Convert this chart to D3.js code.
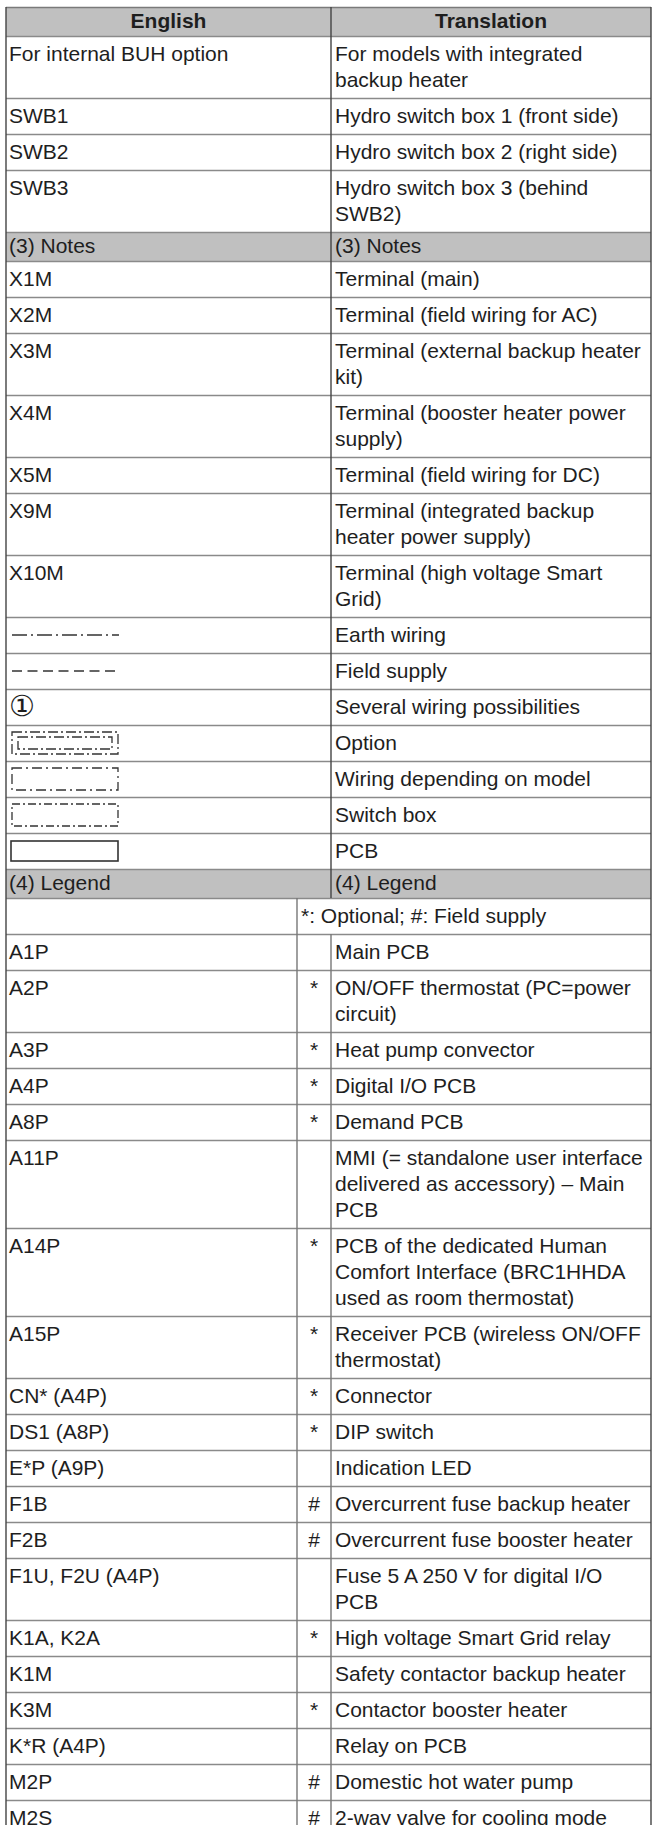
<!DOCTYPE html>
<html><head><meta charset="utf-8">
<script src="https://cdn.jsdelivr.net/npm/d3@7"></script>
<style>body{margin:0;background:#fff;overflow:hidden}</style>
</head><body><svg id="c" width="660" height="1825"></svg>
<script>
// ---- data ----
const english = ["English","For internal BUH option","SWB1","SWB2","SWB3","(3) Notes","X1M","X2M","X3M","X4M","X5M","X9M","X10M","","","\u2460","","","","","(4) Legend","","A1P","A2P","A3P","A4P","A8P","A11P","A14P","A15P","CN* (A4P)","DS1 (A8P)","E*P (A9P)","F1B","F2B","F1U, F2U (A4P)","K1A, K2A","K1M","K3M","K*R (A4P)","M2P","M2S"];
const marks = ["","","","","","","","","","","","","","","","","","","","","","","","*","*","*","*","","*","*","*","*","","#","#","","*","","*","","#","#"];
const translation = ["Translation","For models with integrated\nbackup heater","Hydro switch box 1 (front side)","Hydro switch box 2 (right side)","Hydro switch box 3 (behind\nSWB2)","(3) Notes","Terminal (main)","Terminal (field wiring for AC)","Terminal (external backup heater\nkit)","Terminal (booster heater power\nsupply)","Terminal (field wiring for DC)","Terminal (integrated backup\nheater power supply)","Terminal (high voltage Smart\nGrid)","Earth wiring","Field supply","Several wiring possibilities","Option","Wiring depending on model","Switch box","PCB","(4) Legend","*: Optional; #: Field supply","Main PCB","ON/OFF thermostat (PC=power\ncircuit)","Heat pump convector","Digital I/O PCB","Demand PCB","MMI (= standalone user interface\ndelivered as accessory) \u2013 Main\nPCB","PCB of the dedicated Human\nComfort Interface (BRC1HHDA\nused as room thermostat)","Receiver PCB (wireless ON/OFF\nthermostat)","Connector","DIP switch","Indication LED","Overcurrent fuse backup heater","Overcurrent fuse booster heater","Fuse 5 A 250 V for digital I/O\nPCB","High voltage Smart Grid relay","Safety contactor backup heater","Contactor booster heater","Relay on PCB","Domestic hot water pump","2-way valve for cooling mode"];
const rowKinds = ["head","row","row","row","row","section","row","row","row","row","row","row","row","row","row","row","row","row","row","row","section","note","legend","legend","legend","legend","legend","legend","legend","legend","legend","legend","legend","legend","legend","legend","legend","legend","legend","legend","legend","legend"];
const symbols = ["","","","","","","","","","","","","","earth","field","","option","wiring","switchbox","pcb","","","","","","","","","","","","","","","","","","","","","",""];

// ---- layout ----
const top0 = 7;
const xLeft = 6, xRight = 651, xMid = 331, xMark = 297;
const lineH = 26, pad = 10, sectionH = 29;
const fs = 21;

const rows = english.map((e, i) => {
  const tl = translation[i].split("\n");
  const el = e.split("\n");
  const n = Math.max(tl.length, el.length);
  return {i, kind: rowKinds[i], en: el, tr: tl, mark: marks[i], sym: symbols[i], n};
});
let y = top0;
rows.forEach(r => {
  r.h = (r.kind === "head" || r.kind === "section") ? sectionH : r.n * lineH + pad;
  r.y = y; y += r.h;
});

const svg = d3.select("#c");
const font = "'Liberation Sans', Arial, Helvetica, sans-serif";

// backgrounds
svg.selectAll("rect.bg").data(rows.filter(r => r.kind === "head" || r.kind === "section"))
  .join("rect").attr("class","bg")
  .attr("x", xLeft).attr("y", d => d.y).attr("width", xRight - xLeft).attr("height", d => d.h)
  .attr("fill", "#c0c0c0");

// horizontal lines
svg.selectAll("line.h").data(rows)
  .join("line").attr("class","h")
  .attr("x1", xLeft).attr("x2", xRight)
  .attr("y1", d => d.y + 0.5).attr("y2", d => d.y + 0.5)
  .attr("stroke", d => d.i === 0 ? "#7a7a7a" : "#8a8a8a").attr("stroke-width", 1.3);

// vertical lines
const vStroke = "#444";
const yEnd = 1830;
svg.append("line").attr("x1", xLeft).attr("x2", xLeft).attr("y1", top0).attr("y2", yEnd).attr("stroke", vStroke).attr("stroke-width", 1.4);
svg.append("line").attr("x1", xRight).attr("x2", xRight).attr("y1", top0).attr("y2", yEnd).attr("stroke", vStroke).attr("stroke-width", 1.4);
rows.forEach(r => {
  if (r.kind !== "note") {
    svg.append("line").attr("x1", xMid).attr("x2", xMid).attr("y1", r.y).attr("y2", r.y + r.h)
      .attr("stroke", r.kind === "legend" ? "#777" : vStroke).attr("stroke-width", 1.4);
  }
  if (r.kind === "note" || r.kind === "legend") {
    svg.append("line").attr("x1", xMark).attr("x2", xMark).attr("y1", r.y).attr("y2", r.y + r.h)
      .attr("stroke", "#777").attr("stroke-width", 1.4);
  }
});

const txtColor = "#1e1e1e";
const baseOff = 25;

// English column texts
const gEn = svg.append("g");
rows.forEach(r => {
  const isHead = r.kind === "head";
  r.en.forEach((line, k) => {
    if (!line) return;
    const circ = line === "\u2460";
    gEn.append("text")
      .attr("x", isHead ? (xLeft + xMid) / 2 : 9)
      .attr("y", r.y + (isHead || r.kind === "section" ? 21 : (circ ? 27 : baseOff)) + k * lineH)
      .attr("text-anchor", isHead ? "middle" : "start")
      .attr("font-family", circ ? "'DejaVu Sans', 'Noto Sans CJK JP', sans-serif" : font)
      .attr("font-size", circ ? 29 : fs)
      .attr("font-weight", isHead ? "bold" : "normal")
      .attr("fill", txtColor).text(line);
  });
});

// translation texts
const gTr = svg.append("g");
rows.forEach(r => {
  const isHead = r.kind === "head";
  const x = isHead ? (xMid + xRight) / 2 : (r.kind === "note" ? xMark + 4 : xMid + 4);
  r.tr.forEach((line, k) => {
    gTr.append("text")
      .attr("x", x)
      .attr("y", r.y + (isHead || r.kind === "section" ? 21 : baseOff) + k * lineH)
      .attr("text-anchor", isHead ? "middle" : "start")
      .attr("font-family", font).attr("font-size", fs)
      .attr("font-weight", isHead ? "bold" : "normal")
      .attr("fill", txtColor).text(line);
  });
});

// marks
svg.selectAll("text.mark").data(rows.filter(r => r.mark))
  .join("text").attr("class","mark")
  .attr("x", (xMark + xMid) / 2).attr("y", d => d.y + baseOff)
  .attr("text-anchor", "middle").attr("font-family", font).attr("font-size", fs)
  .attr("fill", txtColor).text(d => d.mark);

// symbols
const sc = "#333";
rows.filter(r => r.sym).forEach(r => {
  const cy = r.y + r.h / 2;
  const g = svg.append("g").attr("fill", "none").attr("stroke", sc).attr("stroke-width", 1.3);
  if (r.sym === "earth") {
    g.append("line").attr("x1", 12).attr("x2", 119).attr("y1", cy).attr("y2", cy).attr("stroke-dasharray", "15,4,2,4");
  } else if (r.sym === "field") {
    g.append("line").attr("x1", 12).attr("x2", 115).attr("y1", cy).attr("y2", cy).attr("stroke-dasharray", "10,5.5");
  } else if (r.sym === "option") {
    g.append("rect").attr("x", 12).attr("y", cy - 11).attr("width", 106).attr("height", 22).attr("stroke-dasharray", "10,3,2,3");
    g.append("rect").attr("x", 18).attr("y", cy - 6).attr("width", 94).attr("height", 12).attr("stroke-dasharray", "10,3,2,3");
  } else if (r.sym === "wiring") {
    g.append("rect").attr("x", 12).attr("y", cy - 11).attr("width", 106).attr("height", 22).attr("stroke-dasharray", "10,4,2,4");
  } else if (r.sym === "switchbox") {
    g.append("rect").attr("x", 12).attr("y", cy - 11).attr("width", 106).attr("height", 22).attr("stroke-dasharray", "8,3,2,3");
  } else if (r.sym === "pcb") {
    g.append("rect").attr("x", 11).attr("y", cy - 10).attr("width", 107).attr("height", 20).attr("stroke-width", 1.6);
  }
});
</script>
</body></html>
